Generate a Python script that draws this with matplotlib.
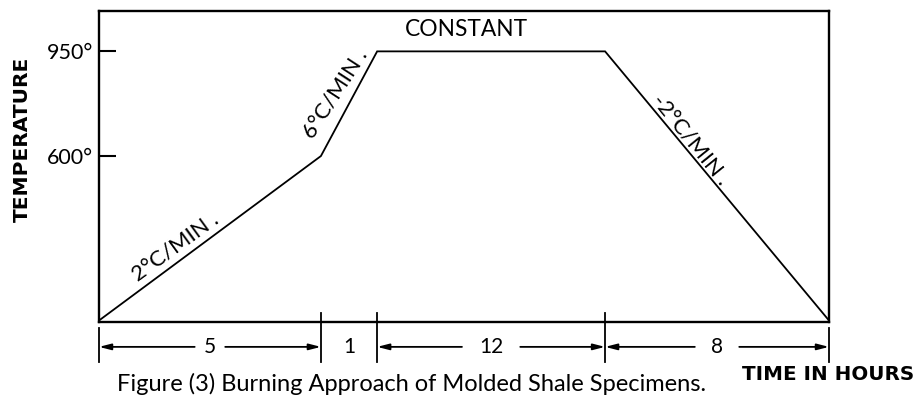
import numpy as np
import matplotlib
matplotlib.use("Agg")
import matplotlib.pyplot as plt
from matplotlib import transforms

# ---- data ----
seg_hours = [5, 1, 12, 8]                 # duration of each stage (hours)
seg_labels = ["5", "1", "12", "8"]
time_pts = [0, 5, 6, 18, 26]              # hours at stage boundaries
temp_pts = [50, 600, 950, 950, 50]        # temperature at boundaries (deg C)
ytick_vals = [600, 950]
ytick_labels = ["600°", "950°"]
rate_labels = ["2°C/MIN .", "6°C/MIN .", "-2°C/MIN ."]
hold_label = "CONSTANT"

# schematic (not-to-scale) horizontal layout of the boundaries
layout_pos = [0, 221, 277, 504, 727]

def fwd(x):
    return np.interp(x, time_pts, layout_pos, left=-1e9, right=1e9)

def inv(p):
    return np.interp(p, layout_pos, time_pts)

plt.rcParams['font.family'] = ['Lato', 'DejaVu Sans']

W, H = 918, 401
fig = plt.figure(figsize=(W / 100, H / 100), dpi=100)
ax = fig.add_axes([99 / W, 1 - 322 / H, 730 / W, 311 / H])
ax.set_xscale('function', functions=(fwd, inv))
ax.set_xlim(0, 26)
ax.set_ylim(45, 1085)

ax.plot(time_pts, temp_pts, color='black', lw=1.3, solid_joinstyle='miter')

for s in ax.spines.values():
    s.set_linewidth(1.7)

ax.set_yticks(ytick_vals)
ax.set_yticklabels(ytick_labels, fontsize=15.5)
ax.tick_params(axis='y', direction='in', length=12, width=1.5, pad=4)
ax.set_xticks([])

trans = transforms.blended_transform_factory(ax.transData, ax.transAxes)

# boundary bars under the axis
for i, t in enumerate(time_pts):
    top = -0.02 if i in (0, len(time_pts) - 1) else 0.03
    ax.plot([t, t], [top, -0.13], color='black', lw=1.3, transform=trans, clip_on=False)

# dimension arrows + labels
ydim = -0.08
gaps = [11, 0, 21, 16]
for i, (lab, g) in enumerate(zip(seg_labels, gaps)):
    a, b = time_pts[i], time_pts[i + 1]
    mid = inv((fwd(a) + fwd(b)) / 2)
    ax.text(mid, ydim, lab, transform=trans, ha='center', va='center',
            fontsize=15, clip_on=False)
    if g > 0:
        for end in (a, b):
            ax.annotate('', xy=(end, ydim), xytext=(mid, ydim),
                        xycoords=trans, textcoords=trans,
                        arrowprops=dict(arrowstyle='-|>,head_length=0.7,head_width=0.18',
                                        color='black', lw=1.3,
                                        shrinkA=g, shrinkB=0))

# annotations along the curve
ax.text(0.105, 0.240, rate_labels[0], transform=ax.transAxes, rotation=36,
        ha='center', va='center', fontsize=16)
ax.text(0.323, 0.735, rate_labels[1], transform=ax.transAxes, rotation=57,
        ha='center', va='center', fontsize=16)
ax.text(0.810, 0.585, rate_labels[2], transform=ax.transAxes, rotation=-51,
        ha='center', va='center', fontsize=16)
ax.text(0.503, 0.939, hold_label, transform=ax.transAxes,
        ha='center', va='center', fontsize=16.4)

fig.text(22 / W, 1 - 139 / H, "TEMPERATURE", rotation=90, ha='center', va='center',
         fontsize=14.5, fontweight='bold', family='DejaVu Sans')
fig.text(828 / W, 1 - 375 / H, "TIME IN HOURS", ha='center', va='center',
         fontsize=14.3, fontweight='bold', family='DejaVu Sans')
fig.text(412 / W, 1 - 384 / H, "Figure (3) Burning Approach of Molded Shale Specimens.",
         ha='center', va='center', fontsize=17)

fig.savefig("out.png", dpi=100)
